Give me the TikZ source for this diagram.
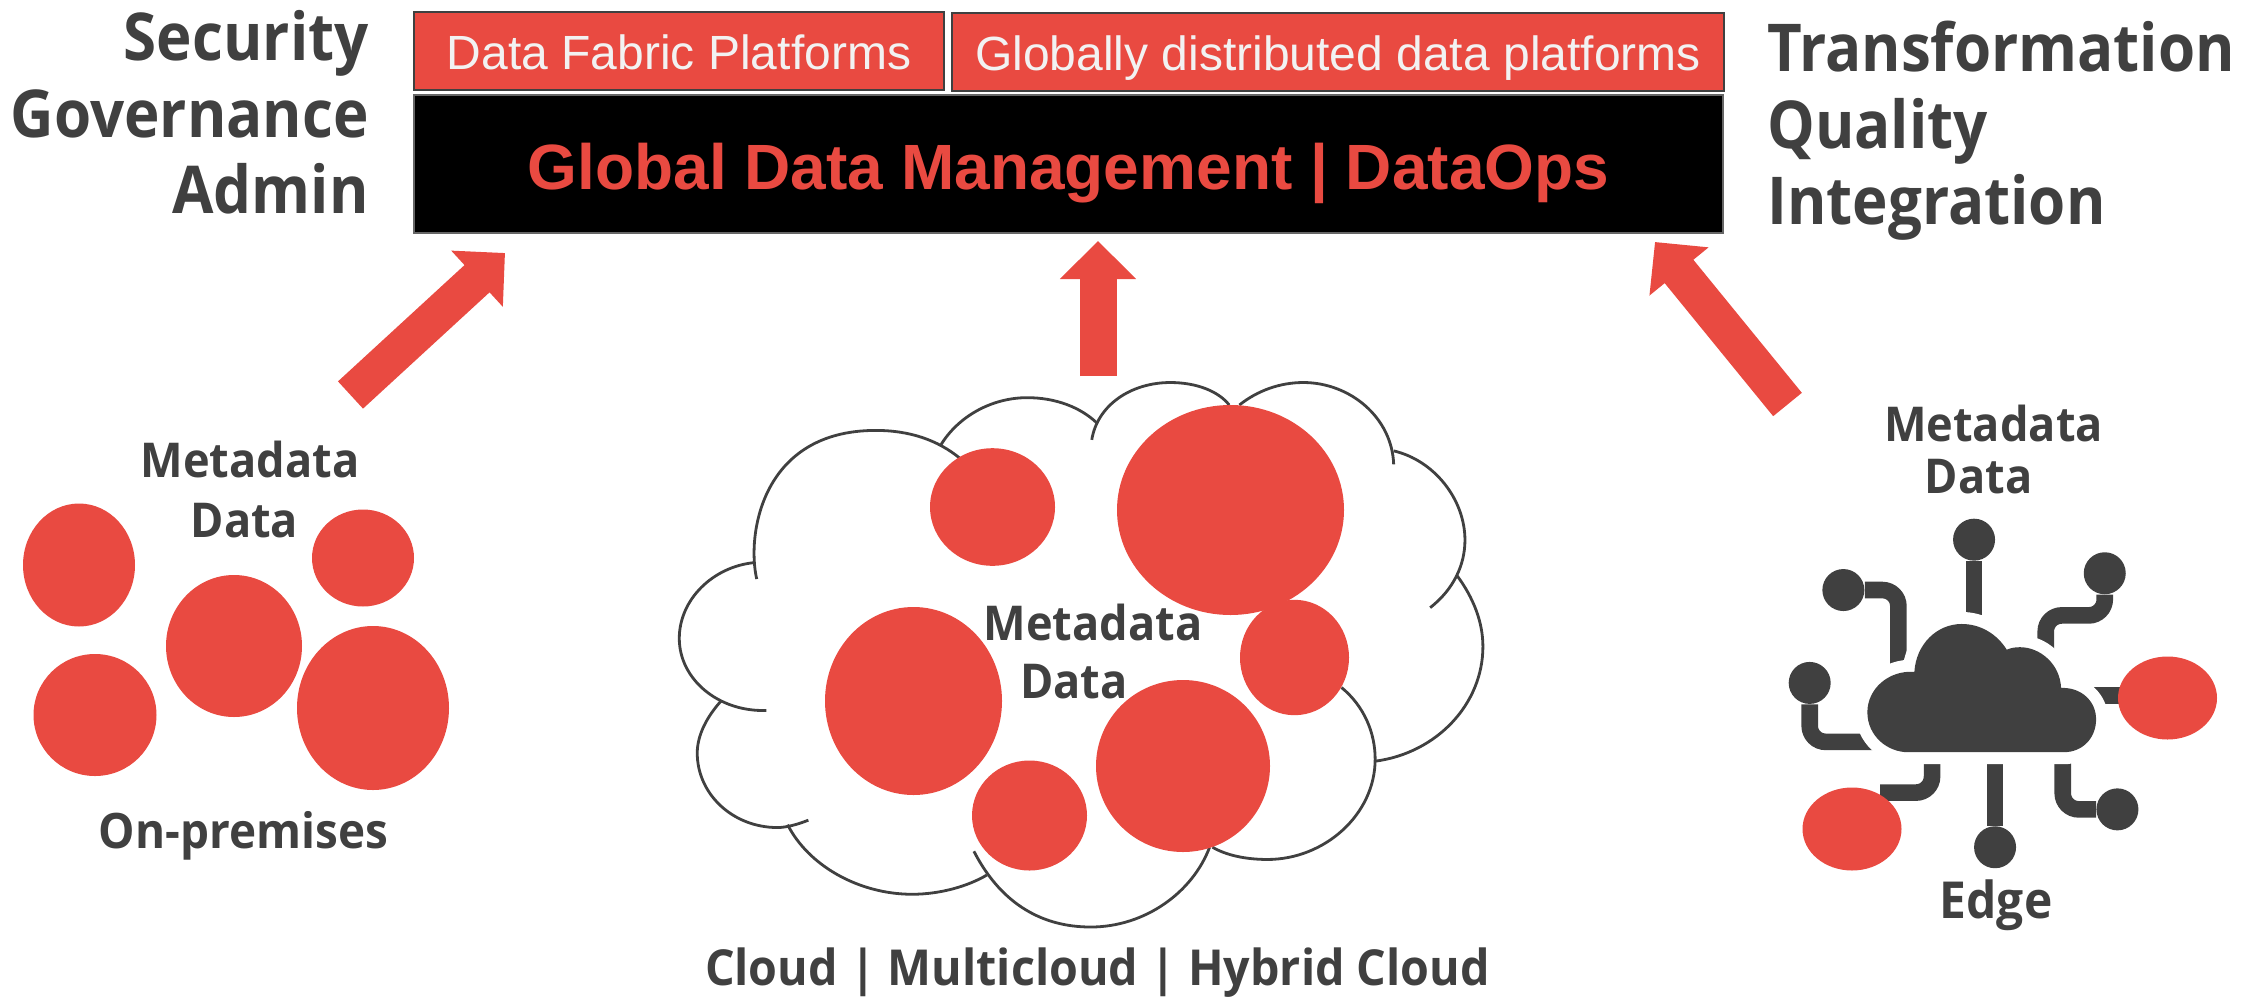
\documentclass[tikz,border=0pt]{standalone}
\usepackage{fontspec}
\usepackage{xcolor}
\setmainfont{Open Sans}
\newfontfamily\arialfont{Liberation Sans}
\newfontfamily\headfont[FakeStretch=.94]{Open Sans}
\newfontfamily\sidefont[FakeStretch=.91]{Open Sans}
\definecolor{tagred}{HTML}{E94A41}
\definecolor{inkgrey}{HTML}{404040}
\usetikzlibrary{
  arrows.meta,
  positioning,
  shapes.geometric
}
\def\edgecloud{(505,1042) -- (970,1042) .. controls (1030,1042) and (1068,1000) .. (1068,950) .. controls (1068,900) and (1025,860) .. (963,862) .. controls (960,795) and (900,748) .. (840,748) .. controls (825,748) and (812,750) .. (800,755) .. controls (770,710) and (720,683) .. (665,683) .. controls (590,683) and (528,740) .. (523,817) .. controls (445,812) and (382,865) .. (382,930) .. controls (382,995) and (440,1042) .. (505,1042) -- cycle}

\begin{document}
\begin{tikzpicture}[x=.5pt, y=-.5pt,
    platform/.style={draw=inkgrey, line width=1pt, fill=tagred, text=white!95!black, inner sep=0pt, minimum height=39pt, text height=22pt, text depth=4pt, font=\arialfont\fontsize{24}{24}\selectfont},
    heading/.style={text=inkgrey, inner sep=0pt, anchor=base, font=\headfont\fontsize{24}{24}\selectfont\bfseries},
    sidelabel/.style={text=inkgrey, inner sep=0pt, font=\sidefont\fontsize{33}{38.25}\selectfont\bfseries},
    blob/.style={ellipse, fill=tagred, inner sep=0pt},
    flow/.style={draw=tagred, line width=18.5pt, -{Triangle[length=19pt, width=37pt, fill=tagred]}},
    term/.style={circle, fill=inkgrey, inner sep=0pt, minimum size=21pt},
    trace/.style={draw=inkgrey, line width=8.3pt, rounded corners=8pt},
    lobe/.style={draw=inkgrey, line width=1.4pt}]
\useasboundingbox (0,0) rectangle (2254,1002);

% top boxes
\node [platform, anchor=north west, minimum width=265pt] (fabric) at (413,11) {Data Fabric Platforms};
\node [platform, right=3pt of fabric, yshift=-.5pt, minimum width=386pt] (global) {Globally distributed data platforms};
\node [draw=inkgrey!80, line width=1pt, fill=black, text=tagred, inner sep=0pt, anchor=north west, minimum width=654.5pt, minimum height=69pt, text height=30pt, text depth=5pt, font=\arialfont\fontsize{32}{32}\selectfont\bfseries] (manage) at (413,94) {Global Data Management | DataOps};

\node [sidelabel, align=right, anchor=north east] (leftlist) at (369,10) {Security\\Governance\\Admin};
\node [sidelabel, align=left, anchor=north west] (rightlist) at (1767,21) {Transformation\\Quality\\Integration};

% arrows
\coordinate (tailL) at (350.5,395);
\coordinate (tipL) at (505,253);
\coordinate (tailM) at (1098,376);
\coordinate (tipM) at (1098,241);
\coordinate (tailR) at (1787.5,404.5);
\coordinate (tipR) at (1655,242);
\draw [flow] (tailL) -- (tipL);
\draw [flow] (tailM) -- (tipM);
\draw [flow] (tailR) -- (tipR);

% on-premises
\node [heading] (metaPrem) at (250,477) {Metadata};
\node [heading] (dataPrem) at (244.5,537) {Data};
\node [heading, font=\headfont\fontsize{24.4}{24.4}\selectfont\bfseries] (prem) at (243.5,848) {On-premises};
\node [blob, minimum width=56pt, minimum height=61.5pt] (premA) at (79,565) {};
\node [blob, minimum width=51pt, minimum height=48.5pt] (premB) at (363,558) {};
\node [blob, minimum width=68pt, minimum height=71pt] (premC) at (234,646) {};
\node [blob, minimum width=61.5pt, minimum height=61pt] (premD) at (95,715) {};
\node [blob, minimum width=76pt, minimum height=82pt] (premE) at (373,708) {};

% cloud outline
\begin{scope}[shift={(640,360)}, x=.2806pt, y=-.2047pt]
\draw [lobe] (208,535) .. controls (190,430) and (215,172) .. (420,172) .. controls (480,172) and (530,195) .. (570,240);
\draw [lobe] (535,210) .. controls (565,140) and (625,92) .. (690,92) .. controls (740,92) and (785,115) .. (815,155);
\draw [lobe] (805,195) .. controls (815,110) and (875,55) .. (945,55) .. controls (990,55) and (1030,75) .. (1050,110);
\draw [lobe] (1068,110) .. controls (1100,75) and (1140,55) .. (1182,55) .. controls (1265,55) and (1340,140) .. (1343,255);
\draw [lobe] (1343,222) .. controls (1415,245) and (1470,340) .. (1470,440) .. controls (1470,500) and (1450,560) .. (1408,605);
\draw [lobe] (1455,525) .. controls (1485,580) and (1502,640) .. (1502,700) .. controls (1502,840) and (1420,960) .. (1310,980);
\draw [lobe] (1250,800) .. controls (1290,845) and (1310,910) .. (1310,975) .. controls (1310,1110) and (1220,1220) .. (1118,1220) .. controls (1080,1220) and (1045,1210) .. (1020,1190);
\draw [lobe] (1015,1190) .. controls (985,1300) and (900,1385) .. (803,1385) .. controls (710,1385) and (640,1320) .. (595,1200);
\draw [lobe] (618,1258) .. controls (585,1285) and (535,1305) .. (485,1305) .. controls (390,1305) and (300,1235) .. (263,1135);
\draw [lobe] (300,1124) .. controls (280,1135) and (260,1142) .. (245,1142) .. controls (165,1142) and (102,1060) .. (102,960) .. controls (102,915) and (120,870) .. (145,832);
\draw [lobe] (225,856) .. controls (140,860) and (70,780) .. (70,680) .. controls (70,585) and (130,505) .. (203,495);
\end{scope}

\node [blob, minimum width=62.5pt, minimum height=58.8pt] (cloudA) at (992.5,507) {};
\node [blob, minimum width=113.5pt, minimum height=105pt] (cloudB) at (1230.5,510) {};
\node [blob, minimum width=88.5pt, minimum height=94pt] (cloudC) at (913.5,701) {};
\node [blob, minimum width=54.5pt, minimum height=57.7pt] (cloudD) at (1294.5,657.5) {};
\node [blob, minimum width=87pt, minimum height=86pt] (cloudE) at (1183,766) {};
\node [blob, minimum width=57.5pt, minimum height=55pt] (cloudF) at (1029.5,815.5) {};
\node [heading] (metaCloud) at (1093,640.5) {Metadata};
\node [heading] (dataCloud) at (1074,698) {Data};
\node [heading, font=\headfont\fontsize{24.8}{24.8}\selectfont\bfseries] (multi) at (1097.5,985) {Cloud | Multicloud | Hybrid Cloud};

% edge icon
\begin{scope}[shift={(1740,380)}, x=.1667pt, y=-.1786pt]
\node [term] (pinTop) at (702,447) {};
\node [term] (pinTopRight) at (1094,541) {};
\node [term] (pinTopLeft) at (310,588) {};
\node [term] (pinLeft) at (209,848) {};
\node [term] (pinBottom) at (765,1308) {};
\node [term] (pinBottomRight) at (1132,1202) {};
\coordinate (hubTop) at (702,800);
\coordinate (hubTopRight) at (917,800);
\coordinate (hubTopLeft) at (475,900);
\coordinate (hubLeft) at (500,1013);
\coordinate (hubBottom) at (765,1000);
\coordinate (hubBottomRight) at (968,1000);
\coordinate (hubBottomLeft) at (576,1000);
\coordinate (hubRight) at (1000,883);
\coordinate (endBottomLeft) at (420,1155);
\coordinate (endRight) at (1200,883);
\draw [trace] (pinTop) -- (hubTop);
\draw [trace] (pinTopRight) -- (1094,659) -- (917,659) -- (hubTopRight);
\draw [trace] (pinTopLeft) -| (hubTopLeft);
\draw [trace] (pinLeft) |- (hubLeft);
\draw [trace] (pinBottom) -- (hubBottom);
\draw [trace] (pinBottomRight) -| (hubBottomRight);
\draw [trace] (hubBottomLeft) |- (endBottomLeft);
\draw [trace] (hubRight) -- (endRight);
\draw [white, line width=12pt] \edgecloud;
\fill [inkgrey] \edgecloud;
\end{scope}
\node [blob, minimum width=49.5pt, minimum height=41.5pt] (edgeA) at (2167.5,698) {};
\node [blob, minimum width=49.5pt, minimum height=41.5pt] (edgeB) at (1852,829) {};
\node [heading] (metaEdge) at (1993.5,441.5) {Metadata};
\node [heading] (dataEdge) at (1978.5,493) {Data};
\node [heading, font=\headfont\fontsize{25.5}{25.5}\selectfont\bfseries] (edge) at (1996,918) {Edge};
\end{tikzpicture}
\end{document}
